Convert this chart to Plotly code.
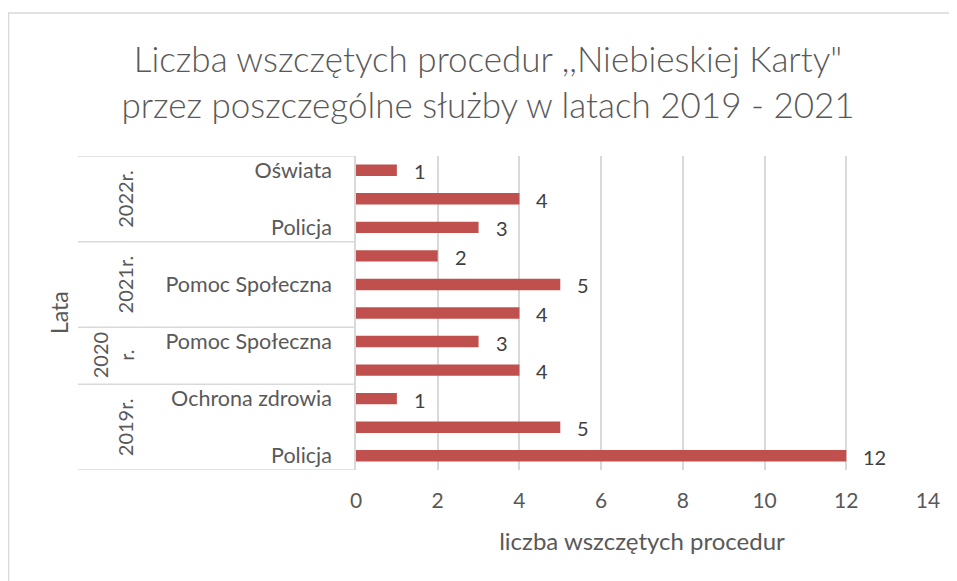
import plotly.graph_objects as go

# Data (bottom to top)
years = ["2019r.", "2019r.", "2019r.", "2020<br>r.", "2020<br>r.",
         "2021r.", "2021r.", "2021r.", "2022r.", "2022r.", "2022r."]
services = ["Policja", "", "Ochrona zdrowia", "", "Pomoc Społeczna",
            "", "Pomoc Społeczna", "", "Policja", "", "Oświata"]
values = [12, 5, 1, 4, 3, 4, 5, 2, 3, 4, 1]
x_ticks = [0, 2, 4, 6, 8, 10, 12, 14]

title_text = "Liczba wszczętych procedur ,,Niebieskiej Karty\"<br>przez poszczególne służby w latach 2019 - 2021"
x_title = "liczba wszczętych procedur"
y_title = "Lata"

FONT = "Lato"
GRAY = "#595959"
LINE = "#d9d9d9"
BAR = "#C0504D"

OFF = 8  # page body margin
W, H = 957 - OFF, 581 - OFF
L, T = 356 - OFF, 156 - OFF
pw, ph = 572, 314
R, B = W - L - pw, H - T - ph

def px_x(p):
    return (p - OFF - L) / pw

def px_y(q):
    return (T + ph - (q - OFF)) / ph

pos = list(range(len(values)))

fig = go.Figure()
fig.add_trace(go.Bar(
    x=values, y=pos, orientation="h",
    marker=dict(color=BAR, line=dict(width=0)),
    width=0.40, hoverinfo="x+y",
))

shapes = []
annotations = []

# data labels
for v, p in zip(values, pos):
    annotations.append(dict(text=str(v), x=v, y=p, xref="x", yref="y",
                            xanchor="left", yanchor="middle", xshift=15, yshift=-1,
                            showarrow=False,
                            font=dict(family=FONT, size=20, color="#404040")))

# group boundaries and year labels
groups = []
start = 0
for i in range(1, len(years) + 1):
    if i == len(years) or years[i] != years[start]:
        groups.append((years[start], start, i - 1))
        start = i

bounds = [-0.5] + [g[2] + 0.5 for g in groups]
for b in bounds:
    shapes.append(dict(type="line", xref="paper", yref="y",
                       x0=px_x(78), x1=0, y0=b, y1=b,
                       line=dict(color=LINE, width=1.5)))
for name, s, e in groups:
    two = "<br>" in name
    annotations.append(dict(
        text=name, xref="paper", yref="y",
        x=px_x(112.5 if two else 125), y=(s + e) / 2,
        textangle=-90, showarrow=False, xanchor="center", yanchor="middle",
        font=dict(family=FONT, size=20, color=GRAY)))

annotations.append(dict(text=y_title, xref="paper", yref="paper",
                        x=px_x(59), y=px_y(313), textangle=-90, showarrow=False,
                        xanchor="center", yanchor="middle",
                        font=dict(family=FONT, size=23, color=GRAY)))

# outer chart border
shapes.append(dict(type="rect", xref="paper", yref="paper",
                   x0=px_x(8.5), x1=px_x(980), y0=px_y(600), y1=px_y(13),
                   line=dict(color=LINE, width=1.5), fillcolor="rgba(0,0,0,0)",
                   layer="below"))

fig.update_layout(
    width=W, height=H,
    margin=dict(l=L, r=R, t=T, b=B, autoexpand=False),
    paper_bgcolor="white", plot_bgcolor="white",
    showlegend=False,
    title=dict(text=title_text, x=(488 - OFF) / W, xanchor="center",
               y=1 - (72 - OFF) / H, yanchor="middle",
               font=dict(family=FONT, size=35, color=GRAY, weight=300)),
    xaxis=dict(range=[0, 14], tickvals=x_ticks, showgrid=True, gridcolor=LINE,
               gridwidth=1.5, zeroline=False, showline=False,
               tickfont=dict(family=FONT, size=21, color=GRAY),
               ticklabelstandoff=16,
               title=dict(text=x_title, font=dict(family=FONT, size=24, color=GRAY),
                          standoff=22),
               ticks="", fixedrange=True),
    yaxis=dict(range=[-0.5, len(values) - 0.5], tickvals=pos, ticktext=services,
               showgrid=False, zeroline=False, showline=True, linecolor=LINE,
               linewidth=1.5, ticks="", ticklabelstandoff=18,
               tickfont=dict(family=FONT, size=21.5, color=GRAY), fixedrange=True),
    shapes=shapes, annotations=annotations,
)

fig.write_html("out.html")
